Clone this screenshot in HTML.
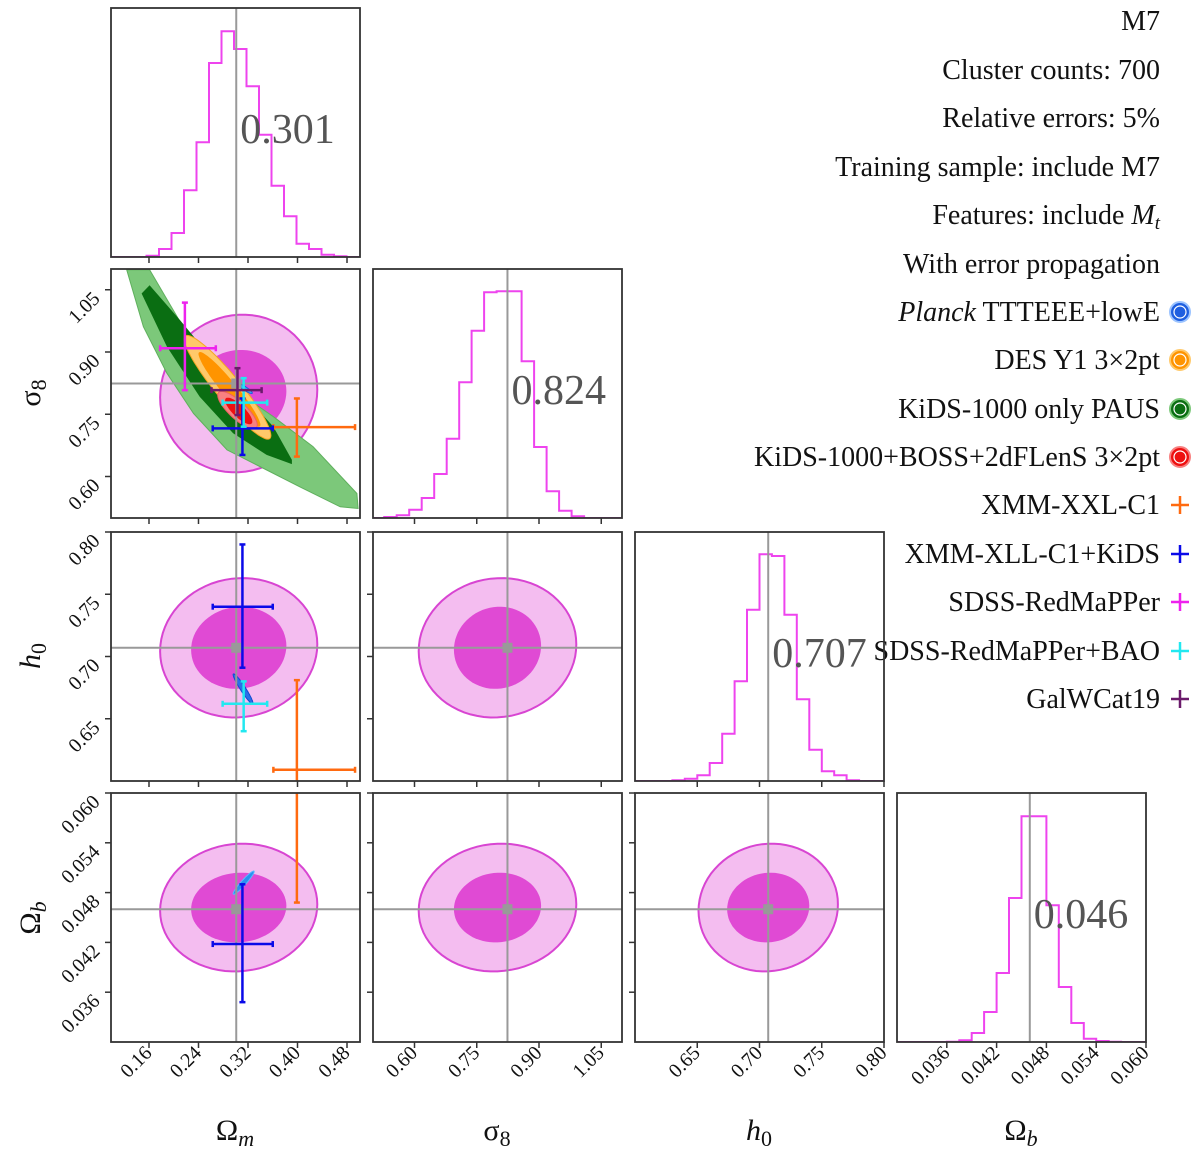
<!DOCTYPE html>
<html><head><meta charset="utf-8"><style>
html,body{margin:0;padding:0;background:#fff;}
svg{display:block;font-family:"Liberation Serif",serif;}
</style></head><body>
<svg id="chart" width="1200" height="1151" viewBox="0 0 1200 1151" xmlns="http://www.w3.org/2000/svg">
<g font-size="30" fill="#111">
  <text x="235" y="1140" text-anchor="middle">Ω<tspan font-style="italic" font-size="22" dy="6">m</tspan></text>
  <text x="497" y="1140" text-anchor="middle">σ<tspan font-size="22" dy="6">8</tspan></text>
  <text x="759" y="1140" text-anchor="middle"><tspan font-style="italic">h</tspan><tspan font-size="22" dy="6">0</tspan></text>
  <text x="1021" y="1140" text-anchor="middle">Ω<tspan font-style="italic" font-size="22" dy="6">b</tspan></text>
  <text x="40" y="393" text-anchor="middle" transform="rotate(-90 40 393)">σ<tspan font-size="22" dy="6">8</tspan></text>
  <text x="40" y="656" text-anchor="middle" transform="rotate(-90 40 656)"><tspan font-style="italic">h</tspan><tspan font-size="22" dy="6">0</tspan></text>
  <text x="40" y="918" text-anchor="middle" transform="rotate(-90 40 918)">Ω<tspan font-style="italic" font-size="22" dy="6">b</tspan></text>
</g>
<g font-size="28" fill="#111" text-anchor="end">
  <text x="1160" y="30">M7</text>
  <text x="1160" y="79">Cluster counts: 700</text>
  <text x="1160" y="127">Relative errors: 5%</text>
  <text x="1160" y="176">Training sample: include M7</text>
  <text x="1160" y="224">Features: include <tspan font-style="italic">M</tspan><tspan font-style="italic" font-size="19" dy="5">t</tspan></text>
  <text x="1160" y="273">With error propagation</text>
  <text x="1160" y="321"><tspan font-style="italic">Planck</tspan> TTTEEE+lowE</text>
  <text x="1160" y="369">DES Y1 3×2pt</text>
  <text x="1160" y="418">KiDS-1000 only PAUS</text>
  <text x="1160" y="466">KiDS-1000+BOSS+2dFLenS 3×2pt</text>
  <text x="1160" y="514">XMM-XXL-C1</text>
  <text x="1160" y="563">XMM-XLL-C1+KiDS</text>
  <text x="1160" y="611">SDSS-RedMaPPer</text>
  <text x="1160" y="660">SDSS-RedMaPPer+BAO</text>
  <text x="1160" y="708">GalWCat19</text>
</g>
<g>
  <g><circle cx="1180" cy="312" r="10" fill="#1f5fe0" stroke="#9cc4ff" stroke-width="2"/><circle cx="1180" cy="312" r="6" fill="none" stroke="#fff" stroke-width="1.2"/></g>
  <g><circle cx="1180" cy="360" r="10" fill="#ff9400" stroke="#ffc96a" stroke-width="2"/><circle cx="1180" cy="360" r="6" fill="none" stroke="#fff" stroke-width="1.2"/></g>
  <g><circle cx="1180" cy="409" r="10" fill="#0a6e12" stroke="#7cc87a" stroke-width="2"/><circle cx="1180" cy="409" r="6" fill="none" stroke="#fff" stroke-width="1.2"/></g>
  <g><circle cx="1180" cy="457" r="10" fill="#ee1010" stroke="#f88080" stroke-width="2"/><circle cx="1180" cy="457" r="6" fill="none" stroke="#fff" stroke-width="1.2"/></g>
  <g stroke="#ff6a10" stroke-width="2.5"><line x1="1171" y1="505" x2="1189" y2="505"/><line x1="1180" y1="496" x2="1180" y2="514"/></g>
  <g stroke="#0a0ae8" stroke-width="2.5"><line x1="1171" y1="554" x2="1189" y2="554"/><line x1="1180" y1="545" x2="1180" y2="563"/></g>
  <g stroke="#ee22ee" stroke-width="2.5"><line x1="1171" y1="602" x2="1189" y2="602"/><line x1="1180" y1="593" x2="1180" y2="611"/></g>
  <g stroke="#22e8f0" stroke-width="2.5"><line x1="1171" y1="651" x2="1189" y2="651"/><line x1="1180" y1="642" x2="1180" y2="660"/></g>
  <g stroke="#6b1a6b" stroke-width="2.5"><line x1="1171" y1="699" x2="1189" y2="699"/><line x1="1180" y1="690" x2="1180" y2="708"/></g>
</g>
</svg>
<script>
// ---------- data ----------
const paramNames = ['om','s8','h0','ob'];
const omRange = [0.0986, 0.501];
const s8Range = [0.5, 1.1];
const h0Range = [0.6, 0.8];
const obRange = [0.030, 0.060];
const omTicks = [0.16, 0.24, 0.32, 0.40, 0.48];
const s8Ticks = [0.60, 0.75, 0.90, 1.05];
const h0Ticks = [0.65, 0.70, 0.75, 0.80];
const obTicks = [0.036, 0.042, 0.048, 0.054, 0.060];
const omTickLabels = ['0.16','0.24','0.32','0.40','0.48'];
const s8TickLabels = ['0.60','0.75','0.90','1.05'];
const h0TickLabels = ['0.65','0.70','0.75','0.80'];
const obTickLabels = ['0.036','0.042','0.048','0.054','0.060'];
const truthValues = [0.301, 0.824, 0.707, 0.046];
const truthLabels = ['0.301','0.824','0.707','0.046'];

const omHistStart = 0.156, omHistWidth = 0.0202;
const omHist = [4,24,72,200,344,582,677,624,512,367,214,122,40,24,7,2];
const s8HistStart = 0.527, s8HistWidth = 0.0301;
const s8Hist = [3,8,25,60,132,238,407,562,677,680,680,470,213,80,22,5];
const h0HistStart = 0.63, h0HistWidth = 0.01;
const h0Hist = [2,7,17,54,142,299,514,680,675,499,245,94,29,17,2];
const obHistStart = 0.036, obHistWidth = 0.0015;
const obHist = [1,5,27,90,207,432,677,677,410,165,57,10,3,1];
const histMax = 747;

const contourCenter = [0.305, 0.80, 0.707, 0.0462];
const contourOuter = [0.127, 0.19, 0.056, 0.0077];
const contourInner = [0.077, 0.105, 0.033, 0.0042];

const kidsOuterOm = [0.161,0.215,0.259,0.307,0.361,0.425,0.496,0.498,0.469,0.404,0.339,0.286,0.232,0.189,0.151,0.124];
const kidsOuterS8 = [1.098,0.961,0.873,0.800,0.744,0.672,0.559,0.523,0.527,0.575,0.624,0.664,0.752,0.849,0.961,1.098];
const kidsInnerOm = [0.161,0.210,0.259,0.312,0.361,0.391,0.391,0.350,0.296,0.242,0.189,0.148];
const kidsInnerS8 = [1.061,0.977,0.889,0.800,0.720,0.640,0.630,0.652,0.704,0.792,0.913,1.041];

const desOuter = [0.287, 0.815, 0.070, 0.125, -0.93];
const desInner = [0.290, 0.810, 0.050, 0.090, -0.95];
const kids3Outer = [0.303, 0.760, 0.032, 0.045, -0.80];
const kids3Inner = [0.305, 0.758, 0.022, 0.032, -0.80];
const planckS8 = [0.315, 0.812, 0.012, 0.012, -0.90];
const planckH0 = [0.312, 0.674, 0.016, 0.012, -0.95];
const planckOb = [0.313, 0.0492, 0.017, 0.0014, 0.95];

const xxlOm = [0.399,0.361,0.493], xxlS8 = [0.719,0.648,0.788], xxlH0 = [0.609,0.54,0.681], xxlOb = [0.065,0.0468,0.083];
const xxlKidsOm = [0.311,0.263,0.360], xxlKidsS8 = [0.716,0.652,0.788], xxlKidsH0 = [0.740,0.691,0.790], xxlKidsOb = [0.0418,0.0348,0.049];
const redmapperOm = [0.218,0.178,0.268], redmapperS8 = [0.909,0.808,1.019];
const baoOm = [0.313,0.279,0.351], baoS8 = [0.778,0.720,0.837], baoH0 = [0.662,0.640,0.680];
const galwOm = [0.303,0.261,0.342], galwS8 = [0.808,0.748,0.861];

// ---------- layout ----------
const colX = [111, 373, 635, 897];
const rowY = [8, 269, 532, 793];
const S = 249;
const ranges = [omRange, s8Range, h0Range, obRange];
const ticks = [omTicks, s8Ticks, h0Ticks, obTicks];
const tickLabels = [omTickLabels, s8TickLabels, h0TickLabels, obTickLabels];
const NS = 'http://www.w3.org/2000/svg';
const svg = document.getElementById('chart');

function sx(j, v) { const r = ranges[j]; return colX[j] + (v - r[0]) / (r[1] - r[0]) * S; }
function sy(i, v) { const r = ranges[i]; return rowY[i] + S - (v - r[0]) / (r[1] - r[0]) * S; }
function mk(tag, attrs, parent) {
  const e = document.createElementNS(NS, tag);
  for (const k in attrs) e.setAttribute(k, attrs[k]);
  (parent || svg).appendChild(e);
  return e;
}
const defs = mk('defs', {});
function clipFor(i, j) {
  const id = 'clip' + i + j;
  const cp = mk('clipPath', {id: id}, defs);
  mk('rect', {x: colX[j], y: rowY[i], width: S, height: S}, cp);
  return 'url(#' + id + ')';
}
function ellipsePath(i, j, cx, cy, dx, dy, rho) {
  let d = '';
  const q = Math.sqrt(1 - rho * rho);
  for (let k = 0; k <= 72; k++) {
    const t = k / 72 * 2 * Math.PI;
    const x = cx + dx * Math.cos(t);
    const y = cy + dy * (rho * Math.cos(t) + q * Math.sin(t));
    d += (k ? 'L' : 'M') + sx(j, x).toFixed(1) + ',' + sy(i, y).toFixed(1);
  }
  return d + 'Z';
}
function polyPath(i, j, xs, ys) {
  let d = '';
  for (let k = 0; k < xs.length; k++) d += (k ? 'L' : 'M') + sx(j, xs[k]).toFixed(1) + ',' + sy(i, ys[k]).toFixed(1);
  return d + 'Z';
}

// ---------- histograms ----------
const hists = [[omHistStart, omHistWidth, omHist],[s8HistStart, s8HistWidth, s8Hist],[h0HistStart, h0HistWidth, h0Hist],[obHistStart, obHistWidth, obHist]];
for (let k = 0; k < 4; k++) {
  const g = mk('g', {'clip-path': clipFor(k, k)});
  
  
  const [st, w, counts] = hists[k];
  const base = rowY[k] + S;
  let d = 'M' + colX[k] + ',' + base + 'L' + sx(k, st).toFixed(1) + ',' + base;
  counts.forEach((c, b) => {
    const y = base - c / histMax * S;
    d += 'L' + sx(k, st + b * w).toFixed(1) + ',' + y.toFixed(1) + 'L' + sx(k, st + (b + 1) * w).toFixed(1) + ',' + y.toFixed(1);
  });
  d += 'L' + sx(k, st + counts.length * w).toFixed(1) + ',' + base + 'L' + (colX[k] + S) + ',' + base;
  const p = mk('path', {d: d, fill: 'none', stroke: '#ee44ee', 'stroke-width': 2}, g);
  
  
  const tl = mk('line', {x1: sx(k, truthValues[k]), x2: sx(k, truthValues[k]), y1: rowY[k], y2: rowY[k] + S, stroke: '#999', 'stroke-width': 2}, g);
  
  
  const tx = mk('text', {x: sx(k, truthValues[k]) + 4, y: rowY[k] + 135, 'font-size': 42, fill: '#555'});
  tx.textContent = truthLabels[k];
  
  
}

// ---------- 2D panels ----------
const crosses = [
  {name:'xmm-xxl-c1', color:'#ff6a10', v:[xxlOm, xxlS8, xxlH0, xxlOb]},
  {name:'xmm-xxl-c1-kids', color:'#0a0ae8', v:[xxlKidsOm, xxlKidsS8, xxlKidsH0, xxlKidsOb]},
  {name:'sdss-redmapper', color:'#ee22ee', v:[redmapperOm, redmapperS8, null, null]},
  {name:'sdss-redmapper-bao', color:'#22e8f0', v:[baoOm, baoS8, baoH0, null]},
  {name:'galwcat19', color:'#6b1a6b', v:[galwOm, galwS8, null, null]}
];
function ell(g, i, j, e, fill, stroke, name) {
  const p = mk('path', {d: ellipsePath(i, j, e[0], e[1], e[2], e[3], e[4]), fill: fill, stroke: stroke || 'none', 'stroke-width': 1}, g);
  
  
}
for (let i = 1; i < 4; i++) {
  for (let j = 0; j < i; j++) {
    const g = mk('g', {'clip-path': clipFor(i, j)});
    
    
    const o = mk('path', {d: ellipsePath(i, j, contourCenter[j], contourCenter[i], contourOuter[j], contourOuter[i], 0.05), fill: '#f4bdf0', stroke: '#d845d2', 'stroke-width': 2}, g);
    
    
    const inn = mk('path', {d: ellipsePath(i, j, contourCenter[j], contourCenter[i], contourInner[j], contourInner[i], 0.05), fill: '#e04ad4', stroke: 'none'}, g);
    
    
    if (i === 1 && j === 0) {
      const k1 = mk('path', {d: polyPath(i, j, kidsOuterOm, kidsOuterS8), fill: '#7cc87a', stroke: '#5fb05d', 'stroke-width': 1}, g);
      
      
      const k2 = mk('path', {d: polyPath(i, j, kidsInnerOm, kidsInnerS8), fill: '#0a6e12'}, g);
      
      
      ell(g, i, j, desOuter, '#ffc96a', '#f5a623', 'des-outer');
      ell(g, i, j, desInner, '#ff9400', null, 'des-inner');
      ell(g, i, j, kids3Outer, '#f88080', '#f06060', 'kids-3x2pt-outer');
      ell(g, i, j, kids3Inner, '#ee1010', null, 'kids-3x2pt-inner');
      ell(g, i, j, planckS8, '#3bb0f0', '#1f5fe0', 'planck-contour');
    }
    if (i === 2 && j === 0) ell(g, i, j, planckH0, '#2a6fe8', '#144ad0', 'planck-contour');
    if (i === 3 && j === 0) ell(g, i, j, planckOb, '#2a8ff0', '#5ab8ff', 'planck-contour');
    const vl = mk('line', {x1: sx(j, truthValues[j]), x2: sx(j, truthValues[j]), y1: rowY[i], y2: rowY[i] + S, stroke: '#999', 'stroke-width': 2}, g);
    
    
    const hl = mk('line', {x1: colX[j], x2: colX[j] + S, y1: sy(i, truthValues[i]), y2: sy(i, truthValues[i]), stroke: '#999', 'stroke-width': 2}, g);
    
    
    const sq = mk('rect', {x: sx(j, truthValues[j]) - 5, y: sy(i, truthValues[i]) - 5, width: 10, height: 10, fill: '#999'}, g);
    
    
    if (j === 0) {
      crosses.forEach(c => {
        const xv = c.v[j], yv = c.v[i];
        if (!xv || !yv) return;
        const cg = mk('g', {stroke: c.color, 'stroke-width': 2.5}, g);
        
        
        const cx = sx(j, xv[0]), cy = sy(i, yv[0]);
        const x1 = sx(j, xv[1]), x2 = sx(j, xv[2]), y1 = sy(i, yv[1]), y2 = sy(i, yv[2]);
        mk('line', {x1: x1, x2: x2, y1: cy, y2: cy}, cg);
        mk('line', {x1: cx, x2: cx, y1: y1, y2: y2}, cg);
        mk('line', {x1: x1, x2: x1, y1: cy - 3, y2: cy + 3}, cg);
        mk('line', {x1: x2, x2: x2, y1: cy - 3, y2: cy + 3}, cg);
        mk('line', {x1: cx - 3, x2: cx + 3, y1: y1, y2: y1}, cg);
        mk('line', {x1: cx - 3, x2: cx + 3, y1: y2, y2: y2}, cg);
      });
    }
  }
}

// ---------- frames, ticks, labels ----------
for (let i = 0; i < 4; i++) {
  for (let j = 0; j <= i; j++) {
    const fr = mk('rect', {x: colX[j], y: rowY[i], width: S, height: S, fill: 'none', stroke: '#333', 'stroke-width': 1.8});
    
    
    const base = rowY[i] + S;
    ticks[j].forEach((t, k) => {
      const x = sx(j, t);
      mk('line', {x1: x, x2: x, y1: base, y2: base + 6, stroke: '#333', 'stroke-width': 1.5});
      if (i === 3) {
        const tx = mk('text', {x: x + 4, y: base + 12, 'font-size': 20, 'text-anchor': 'end', fill: '#111', transform: 'rotate(-45 ' + (x + 4) + ' ' + (base + 12) + ')'});
        tx.textContent = tickLabels[j][k];
        
        
      }
    });
    if (i !== j) {
      ticks[i].forEach((t, k) => {
        const y = sy(i, t);
        mk('line', {x1: colX[j] - 6, x2: colX[j], y1: y, y2: y, stroke: '#333', 'stroke-width': 1.5});
        if (j === 0) {
          const px = colX[0] - 10, py = y + 10;
          const tx = mk('text', {x: px, y: py, 'font-size': 20, 'text-anchor': 'end', fill: '#111', transform: 'rotate(-45 ' + px + ' ' + py + ')'});
          tx.textContent = tickLabels[i][k];
          
          
        }
      });
    }
  }
}
</script>
</body></html>
